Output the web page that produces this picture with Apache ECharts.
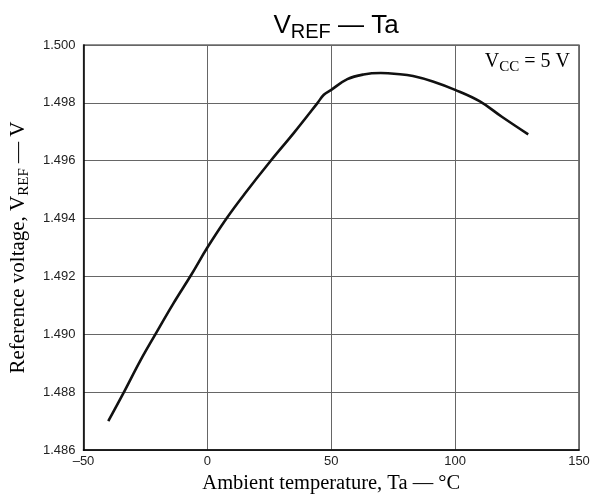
<!DOCTYPE html>
<html>
<head>
<meta charset="utf-8">
<script src="https://cdn.jsdelivr.net/npm/echarts@6/dist/echarts.min.js"></script>
<style>
html,body{margin:0;padding:0;background:#fff;}
#chart{width:603px;height:499px;}
</style>
</head>
<body>
<div id="chart"></div>
<script>
// Data
const temperatures = [-40, -34, -27, -21, -14, -6.5, 0, 7.5, 15, 25.5, 35, 44.5, 47, 50, 56.5, 63, 70, 76.5, 83, 91, 100, 110, 119, 129.5];
const vref = [1.4870, 1.48795, 1.4891, 1.4900, 1.49103, 1.49206, 1.4930, 1.49398, 1.49485, 1.49599, 1.49697, 1.4980, 1.49828, 1.49845, 1.49882, 1.49898, 1.49903, 1.49900, 1.49893, 1.49874, 1.49845, 1.49805, 1.49751, 1.49691];
const xTicks = [-50, 0, 50, 100, 150];
const yTicks = [1.486, 1.488, 1.490, 1.492, 1.494, 1.496, 1.498, 1.500];

const SANS = '"Liberation Sans", Arial, sans-serif';
const SERIF = '"Liberation Serif", "Times New Roman", serif';

const chart = echarts.init(document.getElementById('chart'), null, {renderer: 'canvas'});
const seriesData = temperatures.map((t, i) => [t, vref[i]]);

chart.setOption({
  animation: false,
  backgroundColor: '#fff',
  title: {
    text: '{v|V}{s|REF}{v| \u2014 Ta}',
    left: 331,
    top: 4,
    textAlign: 'center',
    textStyle: {
      fontWeight: 'normal',
      rich: {
        v: {fontSize: 26, fontFamily: SANS, fontWeight: 'normal', color: '#000'},
        s: {fontSize: 20, fontFamily: SANS, fontWeight: 'normal', color: '#000', padding: [13, 0, 0, 0]}
      }
    }
  },
  grid: {
    left: 81, right: 24, top: 45, bottom: 47,
    show: true, borderColor: '#222', borderWidth: 1.2, backgroundColor: 'transparent'
  },
  xAxis: {
    type: 'value',
    min: xTicks[0], max: xTicks[xTicks.length - 1], interval: 50,
    name: 'Ambient temperature, Ta \u2014 \u00b0C',
    nameLocation: 'middle',
    nameGap: 19,
    nameTextStyle: {fontFamily: SERIF, fontSize: 20.5, color: '#000'},
    axisLine: {show: true, onZero: false, lineStyle: {color: '#000', width: 1.5}},
    axisTick: {show: false},
    axisLabel: {
      margin: 5, fontFamily: SANS, fontSize: 13, color: '#222',
      formatter: v => (v < 0 ? '\u2013' + Math.abs(v) : String(v))
    },
    splitLine: {show: true, lineStyle: {color: '#666', width: 1}}
  },
  yAxis: {
    type: 'value',
    min: yTicks[0], max: yTicks[yTicks.length - 1], interval: 0.002,
    name: '{a|Reference voltage, V}{s|REF}{a| \u2014 V}',
    nameLocation: 'middle',
    nameGap: 52,
    nameRotate: 90,
    nameTextStyle: {
      rich: {
        a: {fontFamily: SERIF, fontSize: 21, color: '#000'},
        s: {fontFamily: SERIF, fontSize: 15, color: '#000', padding: [11, 0, 0, 0]}
      }
    },
    axisLine: {show: true, onZero: false, lineStyle: {color: '#000', width: 1.5}},
    axisTick: {show: false},
    axisLabel: {
      margin: 8, fontFamily: SANS, fontSize: 13, color: '#222',
      formatter: v => v.toFixed(3)
    },
    splitLine: {show: true, lineStyle: {color: '#666', width: 1}}
  },
  graphic: [{
    type: 'text',
    right: 33,
    top: 52,
    style: {
      text: '{a|V}{s|CC}{a| = 5 V}',
      rich: {
        a: {fontFamily: SERIF, fontSize: 20, fill: '#000', color: '#000'},
        s: {fontFamily: SERIF, fontSize: 15, fill: '#000', color: '#000', padding: [10, 0, 0, 0]}
      }
    }
  }],
  series: [{
    type: 'line',
    data: seriesData,
    smooth: 0.4,
    showSymbol: false,
    lineStyle: {color: '#111', width: 2.6},
    z: 5
  }]
});
</script>
</body>
</html>
